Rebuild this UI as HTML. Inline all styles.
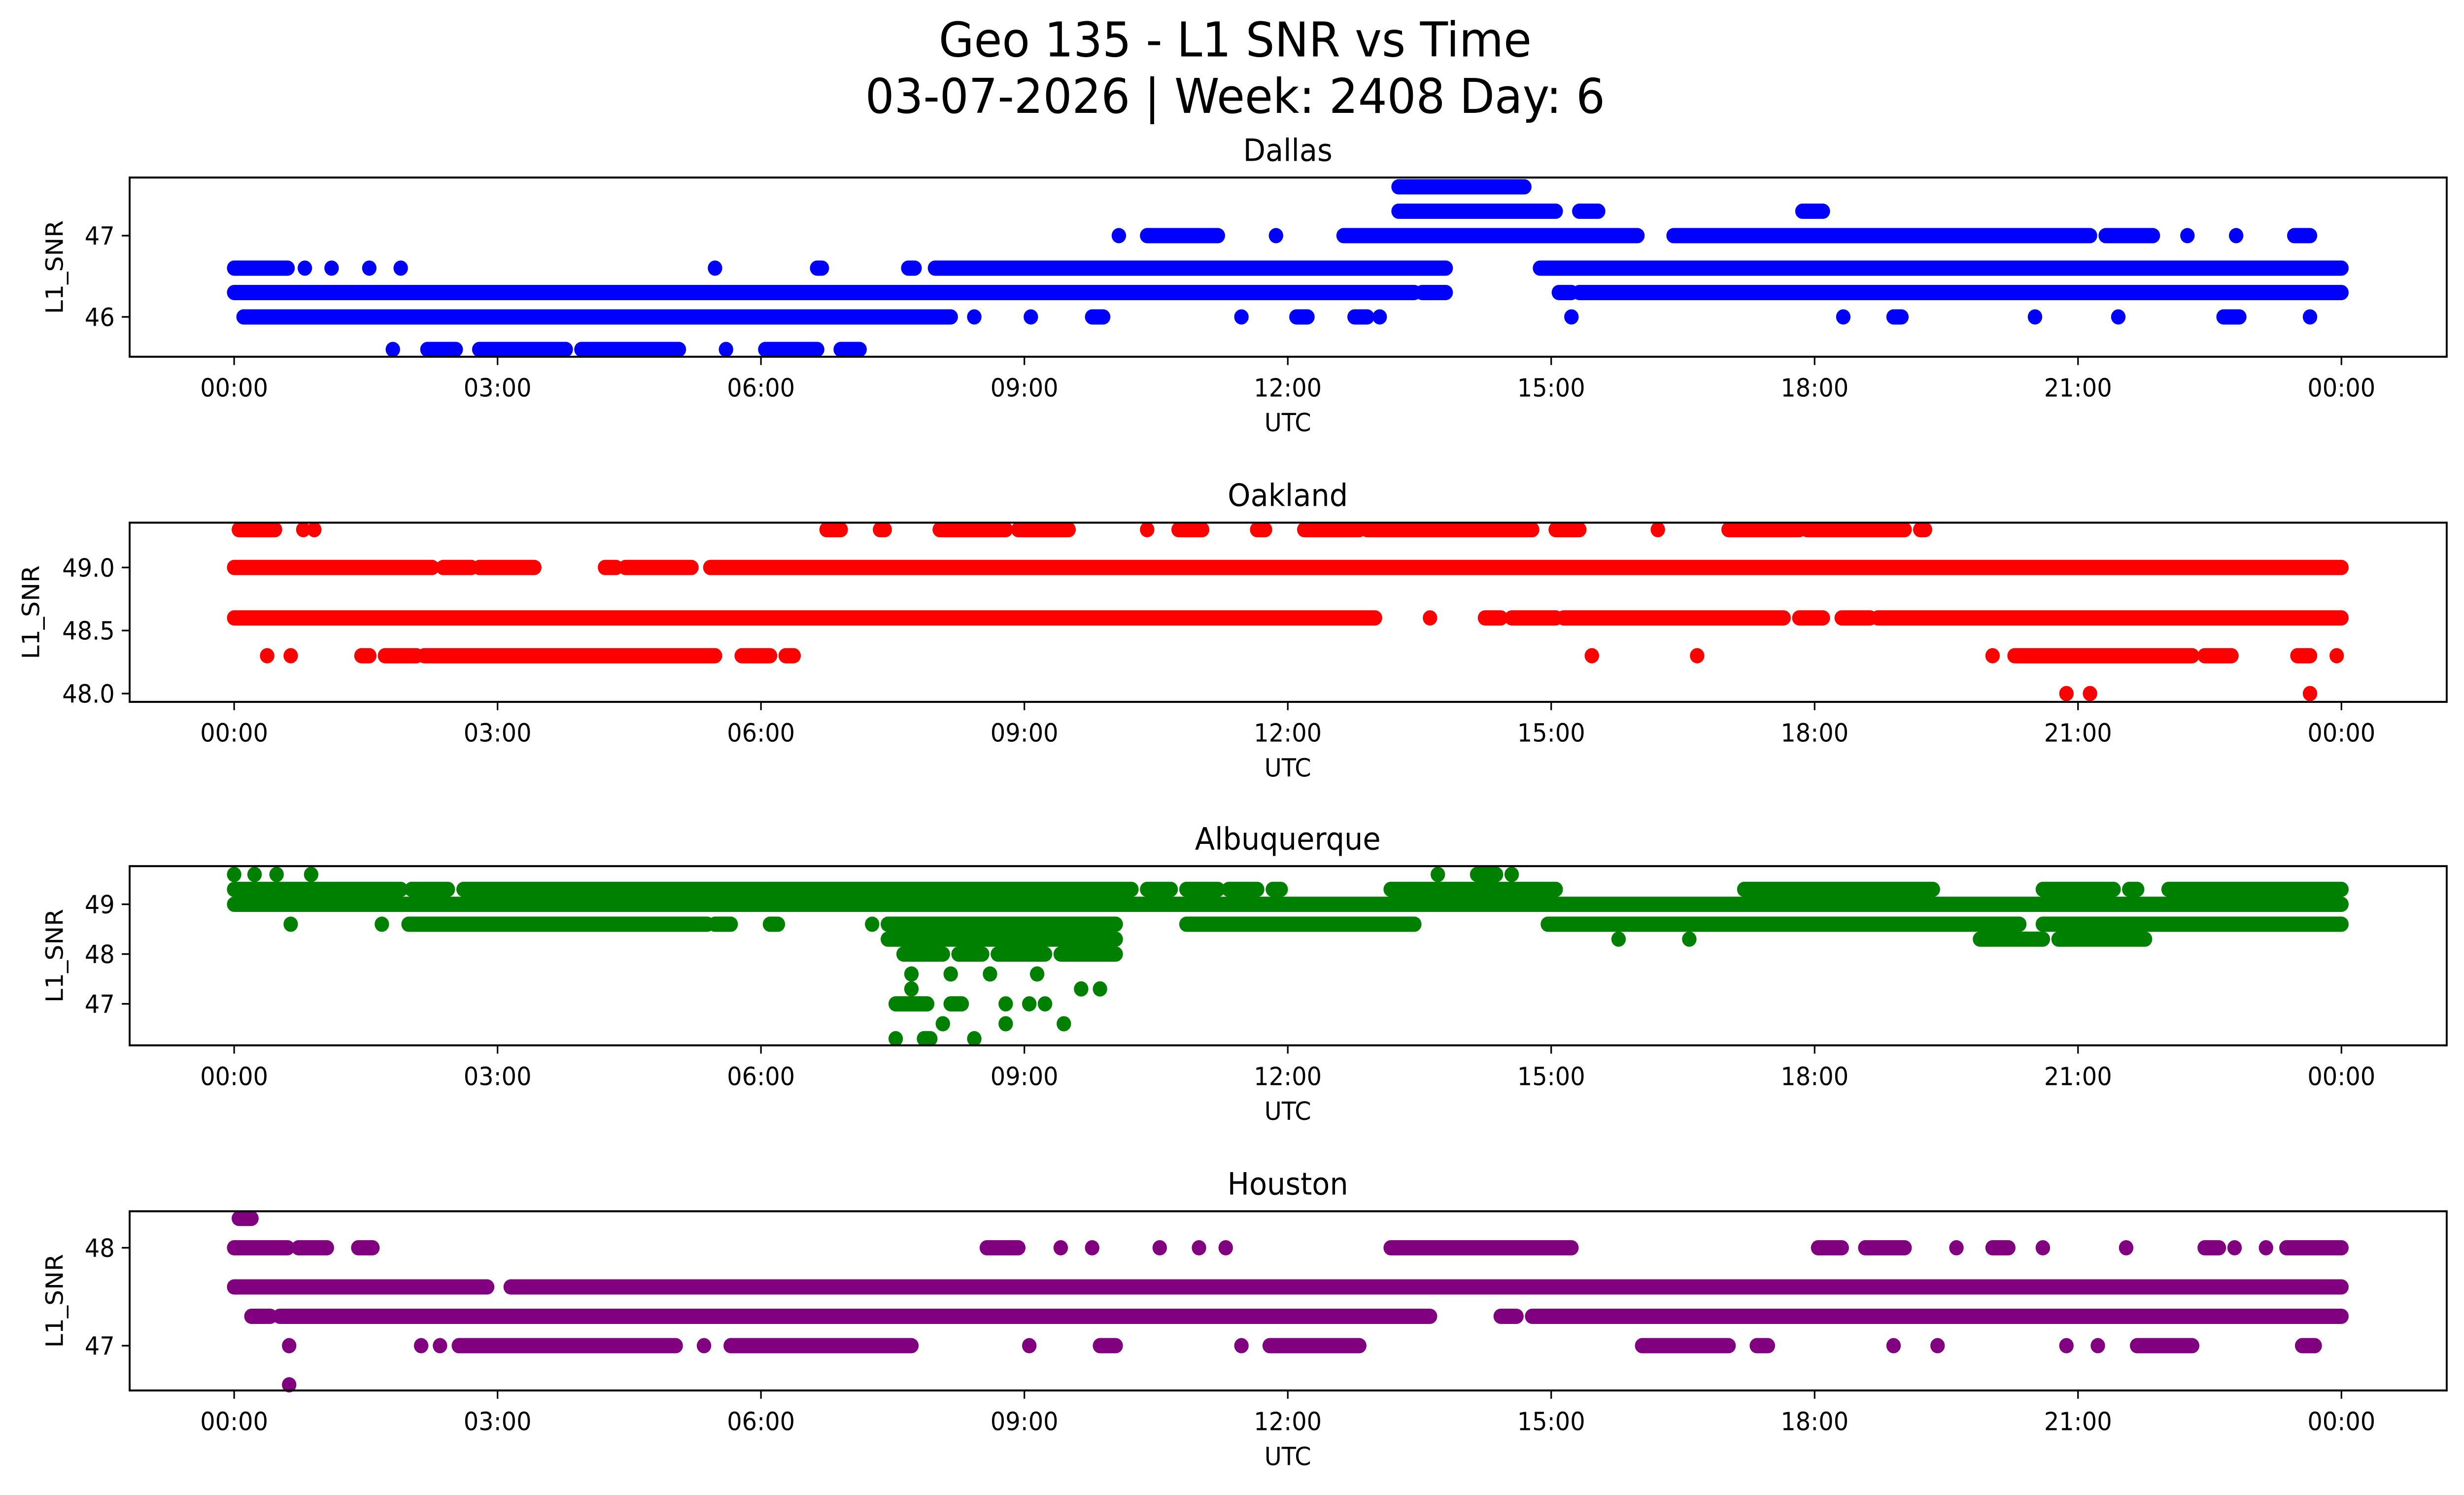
<!DOCTYPE html>
<html><head><meta charset="utf-8">
<style>html,body{margin:0;padding:0;background:#fff;overflow:hidden;width:100%;height:100%;}svg{display:block;width:100vw;height:100vh;}</style>
</head><body>
<svg id="s" xmlns="http://www.w3.org/2000/svg" viewBox="0 0 1568 901" preserveAspectRatio="none" font-family="'DejaVu Sans','Liberation Sans',sans-serif">
<rect width="1568" height="901" fill="#fff"/>
<text x="786" y="34" font-size="29" text-anchor="middle">Geo 135 - L1 SNR vs Time</text>
<text x="786" y="68" font-size="29" text-anchor="middle">03-07-2026 | Week: 2408 Day: 6</text>
<g id="g"></g>
</svg>
<script>
var G=document.getElementById('g'),out='';
var R=4.6;
function seg(y,a,b,c){ if(a==b){out+='<circle cx="'+a+'" cy="'+y+'" r="'+R+'" fill="'+c+'"/>';} else out+='<line x1="'+a+'" y1="'+y+'" x2="'+b+'" y2="'+y+'" stroke="'+c+'" stroke-width="'+(2*R)+'" stroke-linecap="round"/>';}
var panels=[
 {name:"Dallas",T:107,c:"#0000ff",v0:47,y0:142,k:49,yt:[["47",47],["46",46]],rows:[
  [47.6,[[890,970]]],
  [47.3,[[890,990],[1005,1017],[1147,1160]]],
  [47.0,[[712,712],[730,775],[812,812],[855,870],[870,1042],[1065,1330],[1340,1370],[1392,1392],[1423,1423],[1460,1470]]],
  [46.6,[[149,183],[194,194],[211,211],[235,235],[255,255],[455,455],[520,523],[578,582],[595,920],[980,1490]]],
  [46.3,[[149,900],[905,920],[992,1000],[1005,1490]]],
  [46.0,[[155,605],[620,620],[656,656],[695,702],[790,790],[825,832],[862,870],[878,878],[1000,1000],[1173,1173],[1205,1210],[1295,1295],[1348,1348],[1415,1425],[1470,1470]]],
  [45.6,[[250,250],[272,290],[305,360],[370,432],[462,462],[487,520],[535,547]]]]},
 {name:"Oakland",T:315,c:"#ff0000",v0:49,y0:342,k:76,yt:[["49.0",49],["48.5",48.5],["48.0",48]],rows:[
  [49.3,[[152,175],[193,193],[200,200],[526,535],[560,563],[598,640],[648,680],[730,730],[750,765],[800,805],[830,865],[870,975],[990,1005],[1055,1055],[1100,1145],[1150,1212],[1222,1225]]],
  [49.0,[[149,275],[282,300],[305,340],[385,392],[398,440],[452,1490]]],
  [48.6,[[149,875],[910,910],[945,955],[962,990],[995,1135],[1145,1160],[1172,1190],[1195,1490]]],
  [48.3,[[170,170],[185,185],[230,235],[245,265],[270,455],[472,490],[500,505],[1013,1013],[1080,1080],[1268,1268],[1282,1395],[1403,1420],[1462,1470],[1487,1487]]],
  [48.0,[[1315,1315],[1330,1330],[1470,1470]]]]},
 {name:"Albuquerque",T:522,c:"#008000",v0:49,y0:545,k:30,yt:[["49",49],["48",48],["47",47]],rows:[
  [49.6,[[149,149],[162,162],[176,176],[198,198],[915,915],[940,952],[962,962]]],
  [49.3,[[149,255],[262,285],[295,490],[490,720],[730,745],[755,775],[782,800],[810,815],[885,990],[1110,1230],[1300,1345],[1355,1360],[1380,1490]]],
  [49.0,[[149,1490]]],
  [48.6,[[185,185],[243,243],[260,450],[455,465],[490,495],[555,555],[565,710],[755,900],[985,1285],[1300,1490]]],
  [48.3,[[565,710],[1030,1030],[1075,1075],[1260,1300],[1310,1365]]],
  [48.0,[[575,600],[610,625],[635,665],[675,710]]],
  [47.6,[[580,580],[605,605],[630,630],[660,660]]],
  [47.3,[[580,580],[688,688],[700,700]]],
  [47.0,[[570,590],[605,612],[640,640],[655,655],[665,665]]],
  [46.6,[[600,600],[640,640],[677,677]]],
  [46.3,[[570,570],[588,592],[620,620]]]]},
 {name:"Houston",T:730,c:"#800080",v0:48,y0:752,k:59,yt:[["48",48],["47",47]],rows:[
  [48.3,[[152,160]]],
  [48.0,[[149,183],[190,208],[228,237],[628,648],[675,675],[695,695],[738,738],[763,763],[780,780],[885,1000],[1157,1172],[1187,1212],[1245,1245],[1268,1278],[1300,1300],[1353,1353],[1403,1412],[1422,1422],[1442,1442],[1455,1490]]],
  [47.6,[[149,310],[325,1490]]],
  [47.3,[[160,172],[178,910],[955,965],[975,1490]]],
  [47.0,[[184,184],[268,268],[280,280],[292,430],[448,448],[465,580],[655,655],[700,710],[790,790],[808,865],[1045,1100],[1118,1125],[1205,1205],[1233,1233],[1315,1315],[1335,1335],[1360,1395],[1465,1473]]],
  [46.6,[[184,184]]]]}
];
var ticks=["00:00","03:00","06:00","09:00","12:00","15:00","18:00","21:00","00:00"];
panels.forEach(function(p){
  var T=p.T,B=T+108;
  out+='<text x="819.5" y="'+(T-10)+'" font-size="18.5" text-anchor="middle">'+p.name+'</text>';
  p.rows.forEach(function(r){var y=p.y0-(r[0]-p.v0)*p.k;r[1].forEach(function(s){seg(y,s[0],s[1],p.c);});});
  out+='<rect x="82.5" y="'+T+'" width="1474.5" height="108" fill="none" stroke="#000" stroke-width="1.2"/>';
  for(var i=0;i<9;i++){var x=149+i*167.625;
    out+='<line x1="'+x+'" y1="'+B+'" x2="'+x+'" y2="'+(B+5)+'" stroke="#000" stroke-width="1"/>';
    out+='<text x="'+x+'" y="'+(B+24)+'" font-size="15" text-anchor="middle">'+ticks[i]+'</text>';}
  out+='<text x="819.5" y="'+(B+45)+'" font-size="15" text-anchor="middle">UTC</text>';
  p.yt.forEach(function(t){var y=p.y0-(t[1]-p.v0)*p.k;
    out+='<line x1="77.5" y1="'+y+'" x2="82.5" y2="'+y+'" stroke="#000" stroke-width="1"/>';
    out+='<text x="73" y="'+(y+5.5)+'" font-size="15" text-anchor="end">'+t[0]+'</text>';});
  var lx=p.name=="Oakland"?25:40;
  out+='<text transform="translate('+lx+','+(T+54)+') rotate(-90)" font-size="15" text-anchor="middle">L1_SNR</text>';
});
G.innerHTML=out;
</script>
</body></html>
